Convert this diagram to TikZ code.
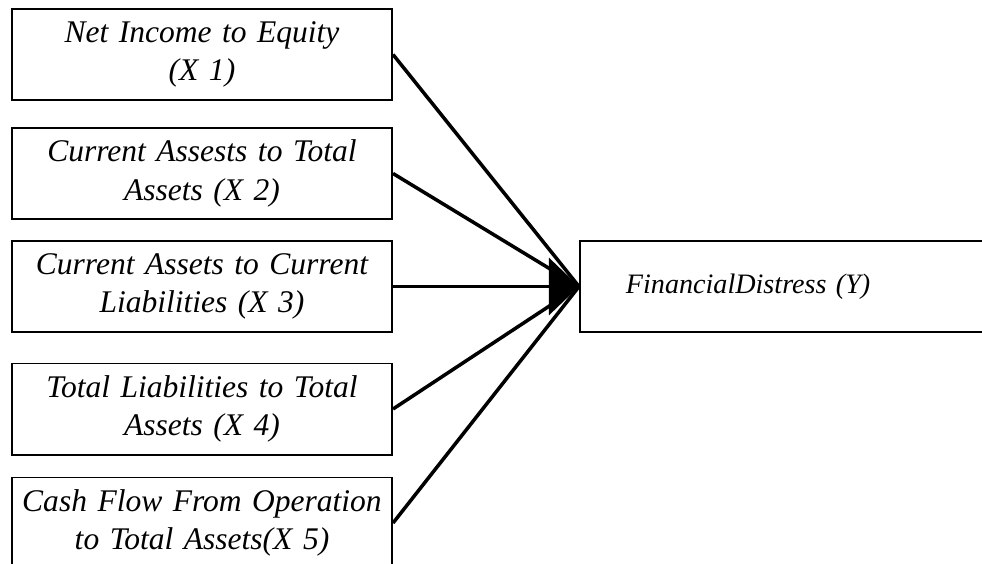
\documentclass[tikz,border=0pt]{standalone}
\usepackage{fontspec}
\setmainfont{Liberation Serif}
\usetikzlibrary{arrows.meta, positioning}

\tikzset{
    varbox/.style={draw, line width=0.8pt, minimum width=5.51cm, minimum height=1.32cm,
        text width=5.4cm, align=center, inner sep=0pt,
        font=\fontsize{13}{16}\selectfont\itshape},
    link/.style={line width=1.45pt},
}

\begin{document}
\begin{tikzpicture}[x=0.0145cm, y=-0.0145cm]
    \useasboundingbox (0,0) rectangle (982,564);
    \clip (0,0) rectangle (982,564);

    % Independent variables
    \foreach \n/\y/\txt in {1/54.5/{Net Income to Equity\\(X 1)},
                            2/173.5/{Current Assests to Total\\Assets (X 2)},
                            3/286.5/{Current Assets to Current\\Liabilities (X 3)},
                            4/409/{Total Liabilities to Total\\Assets (X 4)},
                            5/523/{Cash Flow From Operation\\to Total Assets(X 5)}} {
        \node[varbox] (x\n) at (202,\y) {\txt};
    }

    % Dependent variable
    \node[varbox, anchor=west, text width=4.76cm, inner xsep=0.667cm, align=left,
          font=\fontsize{11.6}{14}\selectfont\itshape] (y) at (579,286.5) {FinancialDistress (Y)};

    % Links
    \foreach \n in {1,2,4,5} {
        \draw[link] (x\n.east) -- (y.west);
    }
    \draw[link, -{Triangle[length=12.4pt, width=23.5pt]}] (x3.east) -- (y.west);
\end{tikzpicture}
\end{document}
